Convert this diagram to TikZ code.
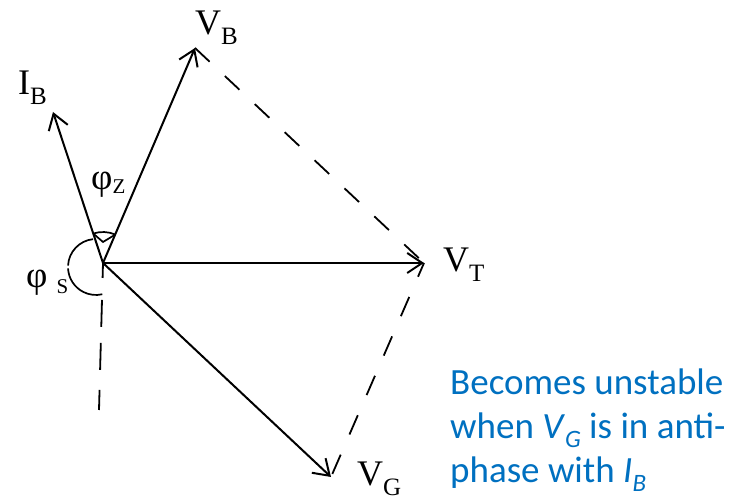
\documentclass[tikz,border=0pt]{standalone}
\usepackage{fontspec}
\setmainfont{Liberation Serif}
\newfontfamily\blueface{Carlito}
\usetikzlibrary{arrows.meta,calc}
\definecolor{txtblue}{RGB}{0,112,192}
\newcommand{\bigsz}{\fontsize{36}{36}\selectfont}
\newcommand{\subsz}{\fontsize{25}{25}\selectfont}
\newcommand{\lowsub}[1]{\raisebox{-10pt}{\subsz #1}}
\newcommand{\bsub}[1]{\raisebox{-9pt}{\fontsize{25}{25}\selectfont\textit{#1}}}
\begin{document}
\begin{tikzpicture}[x=1pt,y=1pt,
  vec/.style={line width=2pt,-{Straight Barb[length=15pt,width=20pt,line width=2pt]}},
  dline/.style={line width=1.8pt},
  lbl/.style={inner sep=0pt,anchor=base west},
  anglemark/.style={line width=1.7pt}]
\useasboundingbox (0,0) rectangle (729,500);
% points (y measured upward: Y = 500 - screen y)
\coordinate (O) at (103,237);
\coordinate (IB) at (53,388);
\coordinate (VB) at (195,452);
\coordinate (VT) at (424,237);
\coordinate (VG) at (331,23);
\coordinate (D) at (99,90);
% dashed lines
\draw[dline,dash pattern=on 20pt off 21pt] (VB) -- (VT);
\draw[dline,dash pattern=on 21pt off 22pt,dash phase=6pt] (VT) -- (VG);
\draw[dline,dash pattern=on 15pt off 22pt on 27pt off 16pt on 27pt off 20pt on 30pt] (O) -- (D);
% vectors
\draw[vec] (O) -- (IB);
\draw[vec] (O) -- (VB);
\draw[vec] (O) -- (VT);
\draw[vec] (O) -- (VG);
% angle phi_z
\draw[anglemark] ($(O)+(66.6:31)$) arc[start angle=66.6,end angle=108.3,radius=31];
\draw[anglemark] ($(O)+(108.3:31)$) -- ($(O)+(0,21)$) -- ($(O)+(66.6:31)$);
% angle phi_s
\coordinate (C) at (96,233);
\draw[anglemark] ($(C)+(96:28)$) arc[start angle=96,end angle=177,radius=28];
\draw[anglemark] ($(C)+(183:28)$) arc[start angle=183,end angle=283,radius=28];
% labels
\node[lbl] (lVB) at (195,465) {\bigsz V\lowsub{B}};
\node[lbl] (lIB) at (18,405) {\bigsz I\lowsub{B}};
\node[lbl] (lVT) at (443,228) {\bigsz V\lowsub{T}};
\node[lbl] (lVG) at (357,14) {\bigsz V\lowsub{G}};
\node[lbl] (lPz) at (91,310) {\fontsize{37}{37}\selectfont φ\raisebox{-4pt}{\fontsize{21}{21}\selectfont Z}};
\node[lbl] (lPs) at (26,212) {\fontsize{37}{37}\selectfont φ\hspace{9pt}\raisebox{-6pt}{\fontsize{21}{21}\selectfont S}};
\node[lbl,text=txtblue,align=left,font={\blueface\fontsize{37}{44}\selectfont}] (note) at (450,17)
  {Becomes unstable\\when \textit{V}\bsub{G} is in anti-\\phase with \textit{I}\bsub{B}};
\end{tikzpicture}
\end{document}
